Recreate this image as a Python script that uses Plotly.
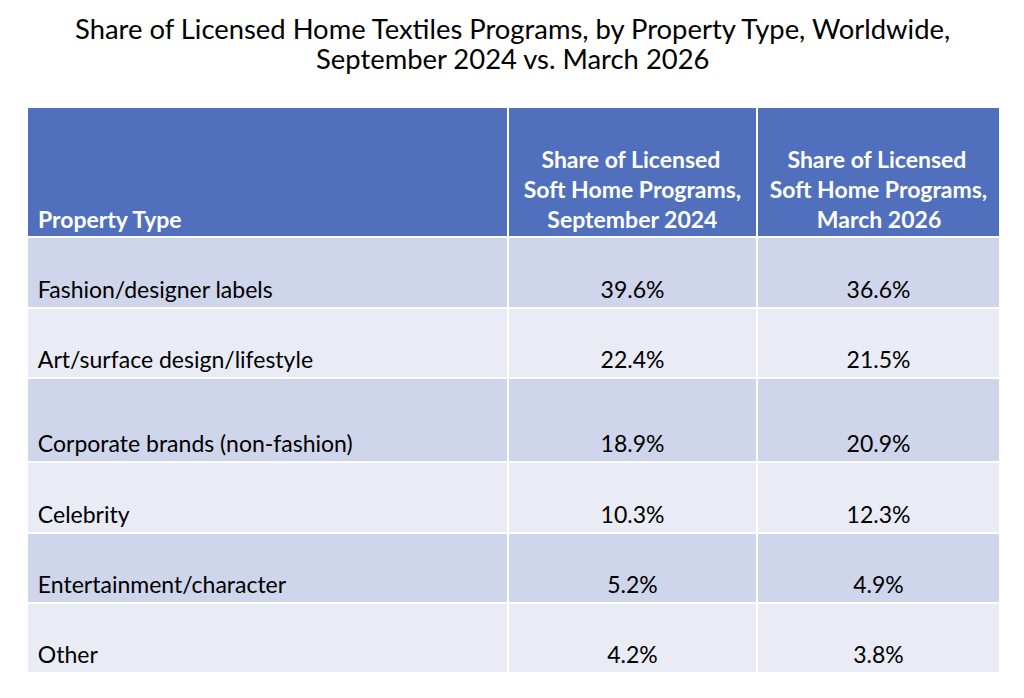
import plotly.graph_objects as go

title_lines = [
    "Share of Licensed Home Textiles Programs, by Property Type, Worldwide,",
    "September 2024 vs. March 2026",
]
column_headers = [
    ["Property Type"],
    ["Share of Licensed", "Soft Home Programs,", "September 2024"],
    ["Share of Licensed", "Soft Home Programs,", "March 2026"],
]
property_types = [
    "Fashion/designer labels",
    "Art/surface design/lifestyle",
    "Corporate brands (non-fashion)",
    "Celebrity",
    "Entertainment/character",
    "Other",
]
share_sep_2024 = [39.6, 22.4, 18.9, 10.3, 5.2, 4.2]
share_mar_2026 = [36.6, 21.5, 20.9, 12.3, 4.9, 3.8]

W, H = 1024, 698
OFF = 8  # the page body has an 8px margin, so everything lands 8px right/down
left, right = 27 - OFF, 1000 - OFF
header_top, header_h = 107 - OFF, 130
row_heights = [71, 70, 84, 71, 70, 70]
text_box = 71  # text sits near the bottom of each row, like in the slide
row_fills = ["#CFD5EA", "#E9EBF5"]
FONT = "Lato, Carlito, Calibri, sans-serif"
NB = "\u00a0"
THIN = "\u2009"
CLEAR = "rgba(0,0,0,0)"
# leading no-break spaces so multi-line header text looks centred line by line
header_pads = [[0], [3, 0, 4], [3, 0, 8]]


def ydom(top, h):
    return [1 - (top + h) / H, 1 - top / H]


def row_table(top, h, values, fill, color, line_color="white"):
    # one header-only table per row, so each row gets its own height
    return go.Table(
        domain=dict(x=[left / W, right / W], y=ydom(top, h)),
        columnwidth=[481, 249, 243],
        header=dict(
            values=values,
            fill_color=fill,
            line=dict(color=line_color, width=2),
            align=["left", "center", "center"],
            font=dict(family=FONT, size=23, color=color),
            height=h,
        ),
        cells=dict(values=[], fill_color=CLEAR, line=dict(width=0)),
    )


fig = go.Figure()

header_vals = []
for lines, pads in zip(column_headers, header_pads):
    padded = [NB * p + "<b>" + s + "</b>" for s, p in zip(lines, pads)]
    blanks = [NB] * (4 - len(lines))
    header_vals.append("<br>".join(blanks + padded))
header_vals[0] = header_vals[0].replace("<b>", THIN + "<b>", 1)
fig.add_trace(row_table(header_top, header_h, header_vals, "#5070BE", "white"))

top = header_top + header_h
for i, name in enumerate(property_types):
    h = row_heights[i]
    # background band with the white grid lines
    fig.add_trace(row_table(top, h, ["", "", ""], row_fills[i % 2], "black"))
    # text layer, bottom-aligned inside the band
    fig.add_trace(row_table(
        top + h - text_box, text_box,
        [NB + "<br>" + THIN + name,
         NB + "<br>%.1f%%" % share_sep_2024[i],
         NB + "<br>%.1f%%" % share_mar_2026[i]],
        CLEAR, "black", line_color=CLEAR,
    ))
    top += h

for line, yc in zip(title_lines, [20, 51]):
    fig.add_annotation(
        text=line, x=0.5 - OFF / W, xref="paper", xanchor="center",
        y=1 - yc / H, yref="paper", yanchor="middle",
        showarrow=False, font=dict(family=FONT, size=27.4, color="black"),
    )

fig.update_layout(
    width=W, height=H,
    margin=dict(l=0, r=0, t=0, b=0),
    paper_bgcolor="white",
)

fig.write_html("out.html")
